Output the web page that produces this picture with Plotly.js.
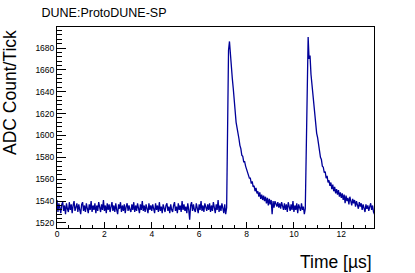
<!DOCTYPE html>
<html>
<head>
<meta charset="utf-8">
<script src="https://cdn.plot.ly/plotly-3.0.1.min.js"></script>
<style>html,body{margin:0;padding:0;background:#fff;}#chart{width:415px;height:273px;}</style>
</head>
<body>
<div id="chart"></div>
<script>
// Sampling step of the waveform (µs) and ADC readings per sample
const sampleStep = 0.04;
const adcCounts = [
  // 0.00 - 0.76
  1541,1530,1538,1532,1529,1537,1539,1531,1536,1528,1538,1533,1530,1539,1532,1537,1529,1536,1540,1531,
  // 0.80 - 1.56
  1535,1538,1530,1537,1532,1528,1537,1539,1531,1536,1530,1538,1533,1529,1537,1532,1540,1530,1536,1532,
  // 1.60 - 2.36
  1538,1529,1536,1531,1539,1533,1530,1537,1532,1541,1531,1536,1529,1538,1532,1537,1530,1535,1539,1531,
  // 2.40 - 3.16
  1536,1530,1538,1532,1528,1537,1533,1539,1530,1536,1531,1537,1529,1535,1538,1531,1536,1532,1530,1537,
  // 3.20 - 3.96
  1532,1539,1530,1536,1531,1538,1533,1529,1537,1532,1540,1531,1536,1530,1537,1533,1529,1538,1532,1536,
  // 4.00 - 4.76
  1531,1537,1533,1529,1538,1532,1536,1530,1539,1531,1535,1529,1537,1532,1530,1536,1538,1531,1535,1529,
  // 4.80 - 5.56
  1537,1532,1530,1536,1539,1531,1535,1529,1538,1532,1536,1530,1540,1532,1537,1531,1535,1529,1538,1532,
  // 5.60 - 6.36
  1523,1536,1539,1531,1537,1532,1530,1538,1533,1529,1537,1532,1540,1531,1536,1530,1538,1533,1531,1537,
  // 6.40 - 7.16
  1532,1538,1530,1536,1531,1539,1533,1529,1537,1532,1541,1530,1536,1531,1538,1532,1529,1537,1528,1534,
  // 7.20 - 7.96 (first pulse)
  1625,1678,1686,1672,1661,1652,1643,1631,1623,1612,1607,1599,1597,1591,1588,1582,1581,1576,1576,1572,
  // 8.00 - 8.76
  1569,1566,1565,1561,1561,1556,1558,1553,1554,1549,1552,1547,1549,1544,1548,1542,1546,1541,1545,1540,
  // 8.80 - 9.56
  1544,1538,1543,1536,1542,1537,1541,1528,1540,1534,1540,1536,1535,1539,1534,1538,1533,1539,1535,1532,
  // 9.60 - 10.36
  1538,1532,1537,1530,1539,1533,1531,1537,1532,1540,1530,1536,1532,1538,1529,1537,1533,1531,1538,1532,
  // 10.40 - 11.16 (second pulse)
  1535,1528,1533,1585,1676,1690,1670,1673,1656,1647,1636,1628,1617,1611,1602,1598,1590,1587,1580,1578,
  // 11.20 - 11.96
  1572,1571,1566,1567,1561,1563,1557,1559,1554,1557,1551,1555,1549,1553,1547,1551,1546,1550,1544,1548,
  // 12.00 - 12.76
  1543,1547,1541,1546,1538,1545,1540,1543,1537,1544,1539,1536,1542,1538,1541,1535,1540,1537,1533,1539,
  // 12.80 - 13.40
  1535,1538,1532,1537,1534,1530,1537,1533,1536,1531,1535,1538,1532,1536,1530,1528
];
const timeUs = adcCounts.map((_, i) => +(i * sampleStep).toFixed(3));

const titleText = "DUNE:ProtoDUNE-SP";
const xTitle = "Time [µs]";
const yTitle = "ADC Count/Tick";

const FONT = "Liberation Sans, Arial, Helvetica, sans-serif";

const trace = {
  x: timeUs,
  y: adcCounts,
  type: "scatter",
  mode: "lines",
  line: {color: "#000099", width: 1.3},
  hoverinfo: "skip"
};

const layout = {
  width: 415,
  height: 273,
  margin: {l: 57, r: 41, t: 27, b: 45},
  paper_bgcolor: "#ffffff",
  plot_bgcolor: "#ffffff",
  showlegend: false,
  font: {family: FONT, color: "#000"},
  title: {
    text: titleText,
    font: {family: FONT, size: 12.5, color: "#000"},
    xref: "container", yref: "container",
    x: 41.5 / 415, xanchor: "left",
    y: 1 - 12.5 / 273, yanchor: "middle"
  },
  xaxis: {
    range: [0, 13.38],
    showgrid: false, zeroline: false,
    showline: true, mirror: true, linecolor: "#000", linewidth: 1,
    ticks: "inside", ticklen: 6, tickwidth: 1, tickcolor: "#000",
    dtick: 2, tick0: 0,
    ticklabelstandoff: -2,
    tickfont: {family: FONT, size: 8.5, color: "#000"},
    minor: {ticks: "inside", ticklen: 3, dtick: 0.5, tickcolor: "#000", showgrid: false}
  },
  yaxis: {
    range: [1515.4, 1699.2],
    showgrid: false, zeroline: false,
    showline: true, mirror: true, linecolor: "#000", linewidth: 1,
    ticks: "inside", ticklen: 9, tickwidth: 1, tickcolor: "#000",
    dtick: 20, tick0: 1520,
    tickfont: {family: FONT, size: 8.5, color: "#000"},
    minor: {ticks: "inside", ticklen: 4.5, dtick: 4, tickcolor: "#000", showgrid: false}
  },
  annotations: [
    {
      text: yTitle, textangle: -90, showarrow: false,
      xref: "paper", yref: "paper",
      x: (10 - 57) / 317, xanchor: "center",
      y: (228 - 28.5) / 201, yanchor: "top",
      font: {family: FONT, size: 17.5, color: "#000"}
    },
    {
      text: xTitle, showarrow: false,
      xref: "paper", yref: "paper",
      x: 1, xanchor: "right",
      y: (228 - 261.5) / 201, yanchor: "middle",
      font: {family: FONT, size: 17.5, color: "#000"}
    }
  ]
};

Plotly.newPlot("chart", [trace], layout, {staticPlot: true, displayModeBar: false});
</script>
</body>
</html>
